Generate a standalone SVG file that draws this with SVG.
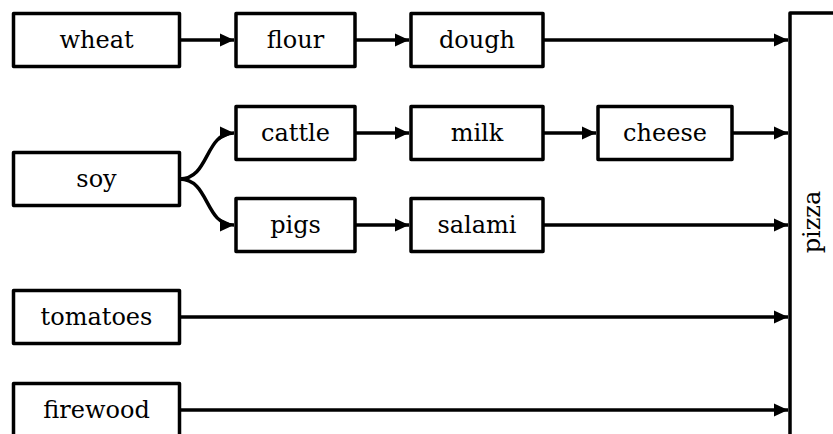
<svg xmlns="http://www.w3.org/2000/svg" width="833" height="434" viewBox="0 0 833 434">
<defs>
<style>
.box{fill:#fff;stroke:#000;stroke-width:3.5;stroke-linejoin:round}
.lbl{font-family:"DejaVu Serif","Liberation Serif",serif;font-size:24px;fill:#000;text-anchor:middle;dominant-baseline:central}
.edge{fill:none;stroke:#000;stroke-width:3.5;marker-end:url(#ah)}
</style>
<marker id="ah" markerUnits="userSpaceOnUse" markerWidth="16" markerHeight="14" refX="14" refY="7" orient="auto">
<path d="M0,0.5 L14,7 L0,13.5 z" fill="#000"/>
</marker>
</defs>
<rect width="833" height="434" fill="#fff"/>
<g id="pizza"><rect class="box" x="790" y="13" width="60" height="440"/><text class="lbl" transform="translate(812,222) rotate(-90)">pizza</text></g>
<g id="wheat"><rect class="box" x="13.5" y="13.5" width="166" height="53"/><text class="lbl" x="96.5" y="40">wheat</text></g>
<g id="flour"><rect class="box" x="236" y="13.5" width="119" height="53"/><text class="lbl" x="295.5" y="40">flour</text></g>
<g id="dough"><rect class="box" x="411" y="13.5" width="132" height="53"/><text class="lbl" x="477" y="40">dough</text></g>
<g id="soy"><rect class="box" x="13.5" y="152.5" width="166" height="53"/><text class="lbl" x="96.5" y="179">soy</text></g>
<g id="cattle"><rect class="box" x="236" y="106.5" width="119" height="53"/><text class="lbl" x="295.5" y="133">cattle</text></g>
<g id="milk"><rect class="box" x="411" y="106.5" width="132" height="53"/><text class="lbl" x="477" y="133">milk</text></g>
<g id="cheese"><rect class="box" x="598" y="106.5" width="134" height="53"/><text class="lbl" x="665" y="133">cheese</text></g>
<g id="pigs"><rect class="box" x="236" y="198.5" width="119" height="53"/><text class="lbl" x="295.5" y="225">pigs</text></g>
<g id="salami"><rect class="box" x="411" y="198.5" width="132" height="53"/><text class="lbl" x="477" y="225">salami</text></g>
<g id="tomatoes"><rect class="box" x="13.5" y="290.5" width="166" height="53"/><text class="lbl" x="96.5" y="317">tomatoes</text></g>
<g id="firewood"><rect class="box" x="13.5" y="383.5" width="166" height="53"/><text class="lbl" x="96.5" y="410">firewood</text></g>
<g id="connectors">
<path class="edge" d="M179.5,40 H234"/>
<path class="edge" d="M355,40 H409"/>
<path class="edge" d="M543,40 H788"/>
<path class="edge" d="M179.5,179 C210,179 204,133 234,133"/>
<path class="edge" d="M179.5,179 C210,179 204,225 234,225"/>
<path class="edge" d="M355,133 H409"/>
<path class="edge" d="M543,133 H596"/>
<path class="edge" d="M732,133 H788"/>
<path class="edge" d="M355,225 H409"/>
<path class="edge" d="M543,225 H788"/>
<path class="edge" d="M179.5,317 H788"/>
<path class="edge" d="M179.5,410 H788"/>
</g>
</svg>
